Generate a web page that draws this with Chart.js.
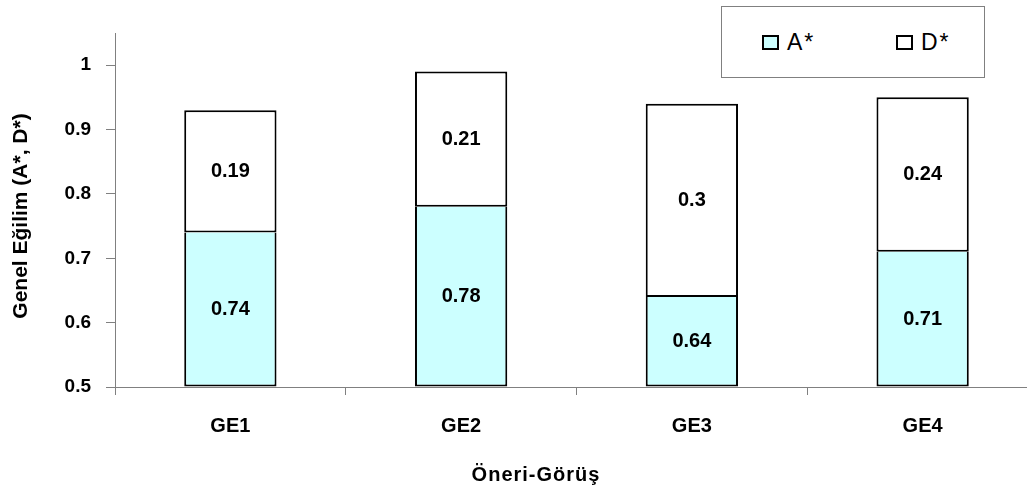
<!DOCTYPE html>
<html>
<head>
<meta charset="utf-8">
<script src="https://cdn.jsdelivr.net/npm/chart.js@4"></script>
<style>
    html, body { margin: 0; padding: 0; background: #fff; overflow: hidden; }
    #wrap { position: relative; width: 1040px; height: 486px; }
    #legend {
        position: absolute; left: 721px; top: 6px; width: 262px; height: 70px;
        border: 1px solid #808080; background: #fff;
        font-family: "Liberation Sans", Arial, sans-serif; font-size: 23px; letter-spacing: 2px;
    }
    #legend .item { position: absolute; top: 22px; line-height: 26px; }
    #legend .sw {
        display: inline-block; width: 13px; height: 11px; border: 2px solid #000;
        margin-right: 8px; vertical-align: 0px;
    }
</style>
</head>
<body>
<div id="wrap">
    <canvas id="chart" width="1040" height="486"></canvas>
    <div id="legend"></div>
</div>
<script>
const categories = ['GE1', 'GE2', 'GE3', 'GE4'];
const aValues = [0.74, 0.78, 0.64, 0.71];
const dValues = [0.19, 0.21, 0.3, 0.24];
const yTicks = [0.5, 0.6, 0.7, 0.8, 0.9, 1];
const xTitle = 'Öneri-Görüş';
const yTitle = 'Genel Eğilim (A*, D*)';

const font = 'Liberation Sans, Arial, sans-serif';

// value labels centred in each segment
const barLabels = {
    id: 'barLabels',
    afterDatasetsDraw(chart) {
        const ctx = chart.ctx;
        ctx.save();
        ctx.font = 'bold 20px ' + font;
        ctx.fillStyle = '#000';
        ctx.textAlign = 'center';
        ctx.textBaseline = 'middle';
        chart.data.datasets.forEach((ds, i) => {
            chart.getDatasetMeta(i).data.forEach((bar, j) => {
                ctx.fillText(String(ds.data[j]), bar.x, (bar.y + bar.base) / 2);
            });
        });
        ctx.restore();
    }
};

// axis titles, placed like in the original (not centred on the plot)
const axisTitles = {
    id: 'axisTitles',
    afterDraw(chart) {
        const ctx = chart.ctx;
        ctx.save();
        ctx.font = 'bold 20px ' + font;
        ctx.fillStyle = '#000';
        ctx.textAlign = 'center';
        ctx.textBaseline = 'middle';
        ctx.letterSpacing = '1px';
        ctx.fillText(xTitle, 536, 475);
        ctx.letterSpacing = '0px';
        ctx.font = 'bold 21px ' + font;
        ctx.translate(21, 216);
        ctx.rotate(-Math.PI / 2);
        ctx.fillText(yTitle, 0, 0);
        ctx.restore();
    }
};

const chart = new Chart(document.getElementById('chart'), {
    type: 'bar',
    data: {
        labels: categories,
        datasets: [
            { label: 'A*', data: aValues, base: 0.5, backgroundColor: '#ccffff', borderColor: '#000', borderWidth: 2, borderSkipped: 'end' },
            { label: 'D*', data: dValues, backgroundColor: '#ffffff', borderColor: '#000', borderWidth: 2, borderSkipped: false }
        ]
    },
    options: {
        responsive: false,
        animation: false,
        layout: { padding: { top: 33, right: 2, left: 0, bottom: 0 } },
        datasets: { bar: { barPercentage: 0.4, categoryPercentage: 1 } },
        plugins: { legend: { display: false }, tooltip: { enabled: false } },
        scales: {
            x: {
                stacked: true,
                grid: { drawOnChartArea: false, color: '#808080', tickLength: 8, offset: true },
                border: { color: '#808080', width: 1 },
                ticks: { color: '#000', font: { family: font, size: 20, weight: 'bold' }, padding: 19 },
                afterFit: s => { s.height = 99; }
            },
            y: {
                stacked: true,
                min: 0.5,
                max: 1.05,
                grid: { drawOnChartArea: false, color: '#808080', tickLength: 9 },
                border: { color: '#808080', width: 1 },
                afterBuildTicks: s => { s.ticks = yTicks.map(v => ({ value: v })); },
                ticks: {
                    color: '#000', font: { family: font, size: 19, weight: 'bold' }, padding: 15,
                    callback: v => String(v)
                },
                afterFit: s => { s.width = 115; }
            }
        }
    },
    plugins: [barLabels, axisTitles]
});

// legend box built from the datasets
const legend = document.getElementById('legend');
const lefts = [40, 174];
chart.data.datasets.forEach((ds, i) => {
    const item = document.createElement('div');
    item.className = 'item';
    item.style.left = lefts[i] + 'px';
    item.innerHTML = '<span class="sw" style="background:' + ds.backgroundColor + '"></span>' + ds.label;
    legend.appendChild(item);
});
</script>
</body>
</html>
